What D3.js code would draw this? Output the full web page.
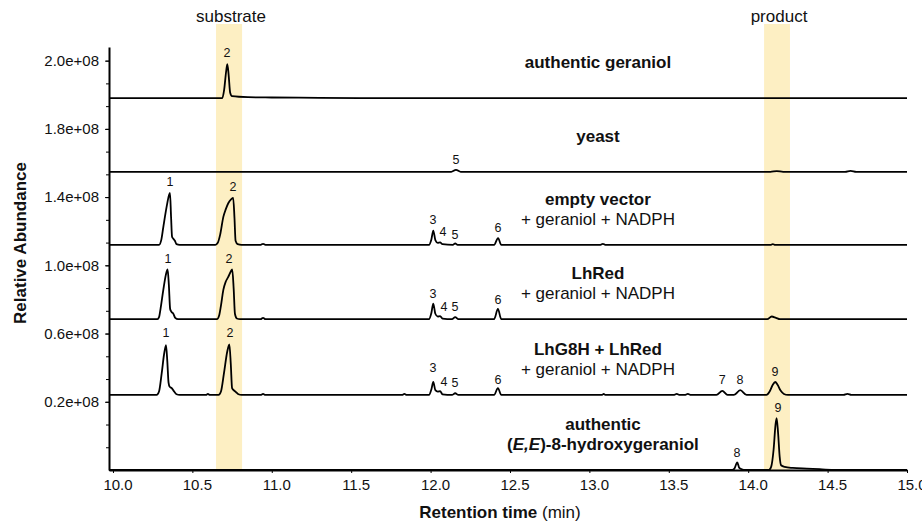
<!DOCTYPE html>
<html>
<head>
<meta charset="utf-8">
<script src="https://cdn.jsdelivr.net/npm/d3@7"></script>
<style>
body{margin:0;background:#fff;}
text{font-family:"Liberation Sans",Arial,sans-serif;fill:#111;}
</style>
</head>
<body>
<div class="canvas"></div>
<script>
const W=922,H=528;

// retention time window and the two marked regions
const xTicks=[10.0,10.5,11.0,11.5,12.0,12.5,13.0,13.5,14.0,14.5,15.0];
const bands=[["substrate",10.649,10.813],["product",14.10,14.263]];

// y axis labels as printed (they sit on evenly spaced slots)
const yTicks=[1,2,3,4,5,6];
const yTickLabels=["0.2e+08","0.6e+08","1.0e+08","1.4e+08","1.8e+08","2.0e+08"];

// sample names, baseline offsets (slot units)
const names=[["authentic geraniol"],["yeast"],["empty vector","+ geraniol + NADPH"],["LhRed","+ geraniol + NADPH"],["LhG8H + LhRed","+ geraniol + NADPH"],["authentic","(E,E)-8-hydroxygeraniol"]];
const offsets=[5.45,4.37,3.30,2.21,1.10,0.0];

// traces: [time, signal above baseline]
const geraniol=[[9.975,0],[10.688,0],[10.70,0.12],[10.712,0.38],[10.72,0.50],[10.728,0.35],[10.738,0.08],[10.75,0.03],[10.85,0.015],[11.0,0.01],[11.3,0.005],[11.6,0],[15,0]];
const yeast=[[9.975,0],[12.13,0],[12.16,0.03],[12.19,0],[14.14,0],[14.18,0.012],[14.22,0],[14.61,0],[14.645,0.015],[14.68,0],[15,0]];
const emptyVector=[[9.975,0],[10.29,0],[10.305,0.08],[10.317,0.26],[10.338,0.56],[10.352,0.72],[10.359,0.76],[10.366,0.4],[10.372,0.12],[10.38,0.09],[10.39,0.06],[10.40,0.01],[10.42,0],
 [10.645,0],[10.66,0.03],[10.675,0.15],[10.695,0.41],[10.71,0.52],[10.726,0.61],[10.745,0.67],[10.757,0.69],[10.765,0.4],[10.772,0.06],[10.785,0.01],[10.81,0],
 [10.93,0],[10.945,0.015],[10.96,0],
 [11.99,0],[12.005,0.08],[12.017,0.21],[12.03,0.07],[12.045,0.03],[12.06,0.035],[12.075,0.01],[12.14,0],[12.155,0.02],[12.17,0],
 [12.40,0],[12.425,0.10],[12.445,0],[13.07,0],[13.085,0.015],[13.10,0],[14.14,0],[14.155,0.012],[14.17,0],[15,0]];
const lhRed=[[9.975,0],[10.28,0],[10.29,0.03],[10.30,0.16],[10.317,0.43],[10.333,0.65],[10.344,0.73],[10.352,0.5],[10.36,0.15],[10.368,0.11],[10.38,0.08],[10.392,0.02],[10.41,0],
 [10.655,0],[10.668,0.05],[10.68,0.2],[10.695,0.43],[10.71,0.55],[10.726,0.62],[10.742,0.70],[10.751,0.73],[10.76,0.45],[10.768,0.08],[10.78,0.01],[10.80,0],
 [10.93,0],[10.945,0.02],[10.96,0],
 [11.99,0],[12.005,0.09],[12.017,0.23],[12.03,0.08],[12.045,0.04],[12.06,0.045],[12.075,0.01],[12.135,0],[12.155,0.03],[12.175,0],
 [12.40,0],[12.424,0.15],[12.445,0],[14.12,0],[14.148,0.04],[14.175,0.02],[14.2,0],[15,0]];
const lhG8H=[[9.975,0],[10.275,0],[10.29,0.05],[10.307,0.32],[10.322,0.6],[10.334,0.73],[10.342,0.5],[10.35,0.18],[10.357,0.12],[10.37,0.1],[10.385,0.05],[10.40,0.01],[10.42,0],
 [10.585,0],[10.598,0.015],[10.61,0],
 [10.665,0],[10.68,0.05],[10.699,0.32],[10.72,0.64],[10.733,0.74],[10.742,0.45],[10.75,0.1],[10.76,0.07],[10.775,0.04],[10.79,0.01],[10.81,0],
 [10.93,0],[10.945,0.015],[10.96,0],[11.82,0],[11.835,0.015],[11.85,0],
 [11.99,0],[12.005,0.08],[12.017,0.19],[12.03,0.07],[12.045,0.05],[12.06,0.055],[12.075,0.01],[12.135,0],[12.155,0.025],[12.175,0],
 [12.40,0],[12.424,0.10],[12.445,0],[13.08,0],[13.09,0.015],[13.10,0],[13.53,0],[13.55,0.015],[13.57,0],[13.60,0],[13.62,0.015],[13.64,0],
 [13.80,0],[13.837,0.06],[13.87,0],[13.91,0],[13.95,0.07],[13.99,0],
 [14.115,0],[14.135,0.05],[14.155,0.15],[14.17,0.19],[14.185,0.15],[14.205,0.06],[14.225,0.015],[14.25,0],
 [14.60,0],[14.625,0.015],[14.65,0],[15,0]];
const hydroxy=[[9.975,0],[13.90,0],[13.913,0.02],[13.931,0.11],[13.944,0.03],[13.96,0.01],[13.98,0],
 [14.13,0],[14.145,0.05],[14.16,0.3],[14.172,0.66],[14.179,0.76],[14.188,0.55],[14.198,0.2],[14.207,0.07],[14.23,0.045],[14.28,0.03],[14.37,0.02],[14.45,0.012],[14.55,0],[15,0]];
const traces=[geraniol,yeast,emptyVector,lhRed,lhG8H,hydroxy];

// peak numbers: [trace index, time, level above baseline, label]
const peakLabels=[
 [0,10.718,0.67,"2"],
 [1,12.16,0.18,"5"],
 [2,10.359,0.92,"1"],[2,10.756,0.85,"2"],[2,12.015,0.37,"3"],[2,12.078,0.19,"4"],[2,12.154,0.15,"5"],[2,12.425,0.25,"6"],
 [3,10.346,0.89,"1"],[3,10.731,0.89,"2"],[3,12.015,0.38,"3"],[3,12.085,0.19,"4"],[3,12.154,0.19,"5"],[3,12.425,0.29,"6"],
 [4,10.334,0.92,"1"],[4,10.737,0.91,"2"],[4,12.015,0.40,"3"],[4,12.085,0.19,"4"],[4,12.154,0.18,"5"],[4,12.425,0.23,"6"],
 [4,13.837,0.22,"7"],[4,13.948,0.22,"8"],[4,14.169,0.34,"9"],
 [5,13.93,0.25,"8"],[5,14.188,0.91,"9"]
];

const x=d3.scaleLinear().domain([9.975,15.0]).range([109,907]);
const y=d3.scaleLinear().domain([0,6.2]).range([470,47]);

const svg=d3.select(".canvas").append("svg")
 .attr("width",W).attr("height",H)
 .style("background-color","white");

// highlighted regions
svg.selectAll("rect.band").data(bands).enter().append("rect")
 .attr("class","band")
 .attr("x",d=>x(d[1])).attr("width",d=>x(d[2])-x(d[1]))
 .attr("y",24).attr("height",470-24)
 .attr("fill","#fdefc3");
svg.selectAll("text.band").data(bands).enter().append("text")
 .attr("x",d=>x((d[1]+d[2])/2)+2).attr("y",22)
 .attr("text-anchor","middle").style("font-size","17px")
 .text(d=>d[0]);

// axes
const xAxis=svg.append("g").attr("transform","translate(0,470)")
 .call(d3.axisBottom(x).tickValues(xTicks).tickFormat(d3.format(".1f")).tickSize(3).tickSizeOuter(0));
xAxis.selectAll("text").style("font-size","15px").attr("dx","4.5").attr("y",9).attr("fill","#111");
xAxis.select(".domain").attr("stroke-width",2);

const yMinor=svg.append("g").attr("transform","translate(109,0)")
 .call(d3.axisLeft(y).tickValues(d3.range(1,19).map(i=>i/3)).tickFormat("").tickSize(3).tickSizeOuter(0));
yMinor.select(".domain").remove();
const yAxis=svg.append("g").attr("transform","translate(109,0)")
 .call(d3.axisLeft(y).tickValues(yTicks).tickFormat((d,i)=>yTickLabels[i]).tickSize(4).tickPadding(6).tickSizeOuter(0));
yAxis.selectAll("text").style("font-size","15px").attr("fill","#111");
yAxis.select(".domain").attr("stroke-width",2);

// axis titles
const xt=svg.append("text").attr("x",500).attr("y",518).attr("text-anchor","middle").style("font-size","17px");
xt.append("tspan").attr("font-weight","bold").text("Retention time");
xt.append("tspan").text(" (min)");
svg.append("text").attr("transform","translate(26,243) rotate(-90)")
 .attr("text-anchor","middle").attr("font-weight","bold").style("font-size","17px")
 .text("Relative Abundance");

// chromatograms
const line=d3.line().curve(d3.curveMonotoneX);
svg.selectAll("path.trace").data(traces).enter().append("path")
 .attr("class","trace")
 .attr("d",(d,i)=>line(d.map(p=>[x(p[0]),y(offsets[i]+p[1])])))
 .attr("fill","none").attr("stroke","#000").attr("stroke-width",1.8)
 .attr("stroke-linejoin","round");

// peak numbers
svg.selectAll("text.peak").data(peakLabels).enter().append("text")
 .attr("class","peak")
 .attr("x",d=>x(d[1])).attr("y",d=>y(offsets[d[0]]+d[2]))
 .attr("dy","0.35em").attr("text-anchor","middle").style("font-size","12.5px")
 .text(d=>d[3]);

// sample names
const nameX=x(13.054);
names.forEach((n,i)=>{
 const b=y(offsets[i]);
 const dx=i===5?5:0;
 if(n.length===1){
  svg.append("text").attr("x",nameX+dx).attr("y",b-36).attr("dy","0.35em")
   .attr("text-anchor","middle").attr("font-weight","bold").style("font-size","17px").text(n[0]);
 }else{
  svg.append("text").attr("x",nameX+dx).attr("y",b-46).attr("dy","0.35em")
   .attr("text-anchor","middle").attr("font-weight","bold").style("font-size","17px").text(n[0]);
  const t=svg.append("text").attr("x",nameX+dx).attr("y",b-26).attr("dy","0.35em")
   .attr("text-anchor","middle").style("font-size","17px");
  if(i===5){
   t.attr("font-weight","bold");
   t.append("tspan").text("(");
   t.append("tspan").attr("font-style","italic").text("E,E");
   t.append("tspan").text(")-8-hydroxygeraniol");
  }else t.text(n[1]);
 }
});
</script>
</body>
</html>
